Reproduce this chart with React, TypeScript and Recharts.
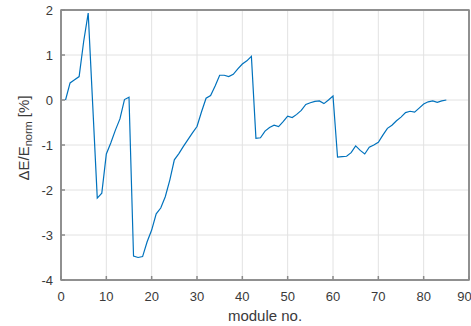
import React from 'react';
import { LineChart, Line, XAxis, YAxis, CartesianGrid, Label, ReferenceArea } from 'recharts';

// module numbers and relative energy deviation in percent
const modules = [
  1, 2, 3, 4, 5, 6, 7, 8, 9, 10, 11, 12, 13, 14, 15, 16, 17, 18, 19, 20,
  21, 22, 23, 24, 25, 26, 27, 28, 29, 30, 31, 32, 33, 34, 35, 36, 37, 38, 39, 40,
  41, 42, 43, 44, 45, 46, 47, 48, 49, 50, 51, 52, 53, 54, 55, 56, 57, 58, 59, 60,
  61, 62, 63, 64, 65, 66, 67, 68, 69, 70, 71, 72, 73, 74, 75, 76, 77, 78, 79, 80,
  81, 82, 83, 84, 85,
];

const deltaE = [
  0.0, 0.38, 0.45, 0.52, 1.3, 1.93, -0.12, -2.18, -2.07, -1.2,
  -0.95, -0.67, -0.42, 0.01, 0.06, -3.47, -3.5, -3.48, -3.15, -2.89,
  -2.53, -2.4, -2.15, -1.78, -1.33, -1.19, -1.03, -0.88, -0.73, -0.59,
  -0.26, 0.04, 0.1, 0.31, 0.55, 0.55, 0.52, 0.57, 0.69, 0.8,
  0.87, 0.97, -0.85, -0.84, -0.69, -0.61, -0.56, -0.59, -0.48, -0.36,
  -0.39, -0.32, -0.23, -0.1, -0.06, -0.03, -0.02, -0.08, 0.0, 0.09,
  -1.27, -1.26, -1.25, -1.17, -1.02, -1.12, -1.2, -1.05, -1.0, -0.94,
  -0.78, -0.63, -0.56, -0.46, -0.38, -0.28, -0.25, -0.27, -0.18, -0.09,
  -0.04, -0.02, -0.05, -0.02, 0.0,
];

const xTicks = [0, 10, 20, 30, 40, 50, 60, 70, 80, 90];
const yTicks = [-4, -3, -2, -1, 0, 1, 2];

const data = modules.map((m, i) => ({ module: m, dE: deltaE[i] }));

const FONT = 'Liberation Sans, Arial, Helvetica, sans-serif';
const AXIS = '#8a8a8a';
const TXT = '#3a3a3a';

const YTitle = (props: any) => {
  const vb = props.viewBox;
  const cx = vb.x + 25;
  const cy = vb.y + vb.height / 2 - 7;
  return (
    <text
      transform={`translate(${cx},${cy}) rotate(-90)`}
      textAnchor="middle"
      dominantBaseline="middle"
      fontFamily={FONT}
      fontSize={15}
      fill={TXT}
    >
      ΔE/E
      <tspan fontSize={11} dy={4}>norm</tspan>
      <tspan dy={-4}> [%]</tspan>
    </text>
  );
};

const App = () => {
  return (
    <div style={{ position: 'absolute', left: 0, top: 0 }}>
      <LineChart
        width={471}
        height={326}
        data={data}
        margin={{ top: 9, right: 1, bottom: 0, left: 0 }}
      >
        <CartesianGrid stroke="#e2e2e2" strokeWidth={1} />
        <XAxis
          dataKey="module"
          type="number"
          domain={[0, 90]}
          ticks={xTicks}
          height={46}
          tickSize={-4}
          tickMargin={16}
          stroke={AXIS}
          strokeWidth={1.5}
          tick={{ fill: TXT, fontSize: 13, fontFamily: FONT }}
        >
          <Label
            value="module no."
            position="insideBottom"
            offset={5}
            style={{ fill: TXT, fontSize: 15, fontFamily: FONT }}
          />
        </XAxis>
        <XAxis
          xAxisId="top"
          orientation="top"
          dataKey="module"
          type="number"
          domain={[0, 90]}
          ticks={xTicks}
          height={1}
          tickSize={-4}
          tick={false}
          stroke={AXIS}
          strokeWidth={1.5}
        />
        <YAxis
          type="number"
          domain={[-4, 2]}
          ticks={yTicks}
          width={61}
          tickSize={-4}
          tickMargin={12}
          stroke={AXIS}
          strokeWidth={1.5}
          tick={{ fill: TXT, fontSize: 13, fontFamily: FONT }}
        >
          <Label content={YTitle} />
        </YAxis>
        <YAxis
          yAxisId="right"
          orientation="right"
          type="number"
          domain={[-4, 2]}
          ticks={yTicks}
          width={1}
          tickSize={-4}
          tick={false}
          stroke={AXIS}
          strokeWidth={1.5}
        />
        <ReferenceArea
          x1={0}
          x2={90}
          y1={-4}
          y2={2}
          fill="none"
          stroke={AXIS}
          strokeWidth={1.5}
          ifOverflow="visible"
        />
        <Line
          type="linear"
          dataKey="dE"
          stroke="#0072BD"
          strokeWidth={1.2}
          dot={false}
          isAnimationActive={false}
        />
      </LineChart>
    </div>
  );
};

export default App;
